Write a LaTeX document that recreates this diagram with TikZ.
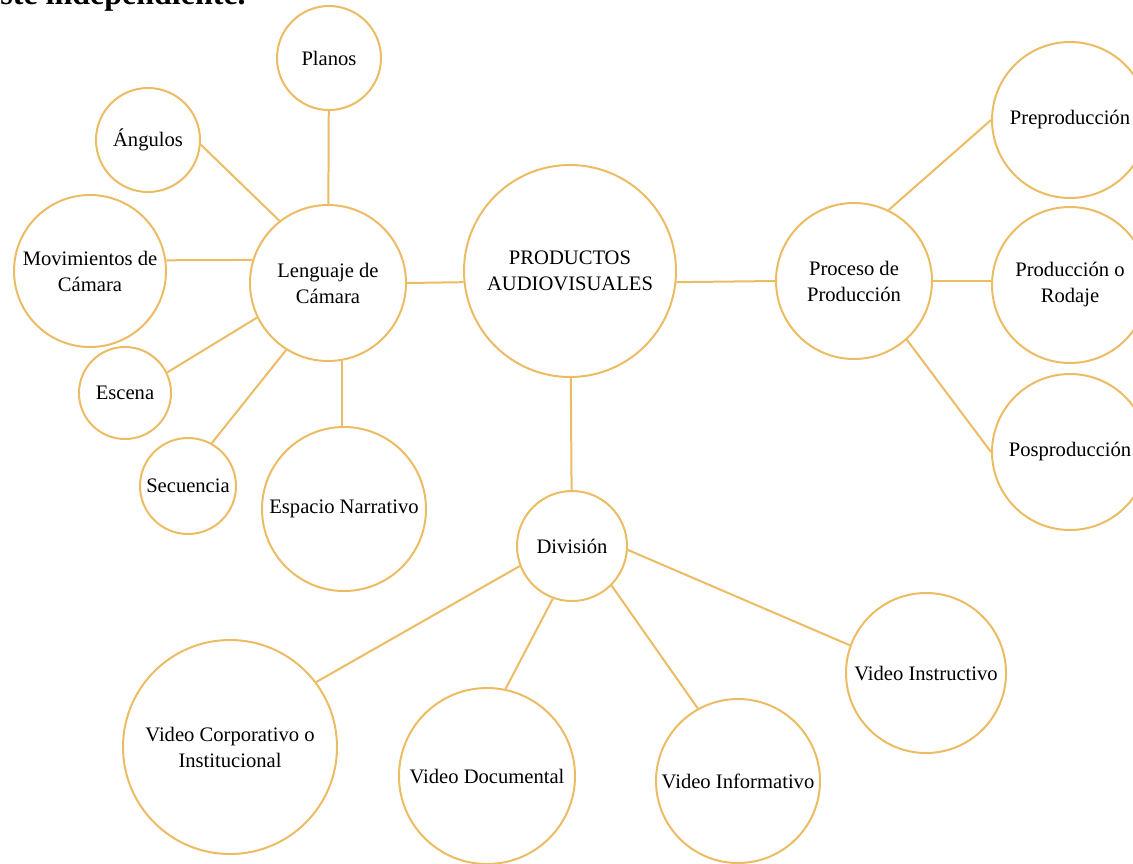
\documentclass[tikz,border=0pt]{standalone}
\usepackage{fontspec}
\setmainfont{Liberation Serif}
\usepackage{xcolor}
\definecolor{gold}{RGB}{236,188,100}
\usepackage{tikz}
\usetikzlibrary{positioning}

\begin{document}
\begin{tikzpicture}[x=0.5pt,y=-0.5pt,
  bubble/.style={draw=gold,line width=1pt,circle,inner sep=0,align=center,font=\fontsize{10.3}{13}\selectfont},
  link/.style={draw=gold,line width=1pt}]
\useasboundingbox (0,0) rectangle (1133,863);

%heading, cut at the top
\node (head) at (0,4) [anchor=base west,inner sep=0,font=\bfseries\fontsize{16}{18}\selectfont] {ste independiente.};

%centre
\node (prod) at (570,271) [bubble,minimum size=106pt] {PRODUCTOS\\AUDIOVISUALES};

%camera language
\node (leng) at (328,283) [bubble,minimum size=78pt] {Lenguaje de\\C\'amara};
\node (planos) at (329,58) [bubble,minimum size=52pt] {Planos};
\node (ang) at (148,140) [bubble,minimum size=52pt] {\'Angulos};
\node (mov) at (90,271) [bubble,minimum size=76pt] {Movimientos de\\C\'amara};
\node (esc) at (125,393) [bubble,minimum size=46pt] {Escena};
\node (sec) at (188,486) [bubble,minimum size=48pt] {Secuencia};
\node (esp) at (344,509) [bubble,minimum size=82pt] {Espacio Narrativo};

%production process
\node (proc) at (854,281) [bubble,minimum size=78pt] {Proceso de\\Producci\'on};
\node (pre) at (1070,120) [bubble,minimum size=78pt] {Preproducci\'on};
\node (rod) at (1070,285) [bubble,minimum size=78pt] {Producci\'on o\\Rodaje};
\node (pos) at (1070,452) [bubble,minimum size=78pt] {Posproducci\'on};

%division
\node (div) at (572,546) [bubble,minimum size=55pt] {Divisi\'on};
\node (corp) at (230,747) [bubble,minimum size=107pt] {Video Corporativo o\\Institucional};
\node (doc) at (487,776) [bubble,minimum size=88pt] {Video Documental};
\node (inf) at (738,781) [bubble,minimum size=82pt] {Video Informativo};
\node (ins) at (926,673) [bubble,minimum size=80pt] {Video Instructivo};

%links
\draw [link] (planos) -- (leng);
\draw [link] (ang.-5) -- (leng.128);
\draw [link] (mov.8) -- (leng.163);
\draw [link] (esc.26) -- (leng.206);
\draw [link] (sec.61) -- (leng.238);
\draw [link] (leng.280) -- (leng.280 |- esp.north);
\draw [link] (leng.east) -- (prod.186);
\draw [link] (prod.-6) -- (proc.west);
\draw [link] (proc.64) -- (pre.west);
\draw [link] (proc.east) -- (proc.east -| rod.west);
\draw [link] (proc.-48) -- (pos.west);
\draw [link] (prod) -- (div);
\draw [link] (div.201) -- (corp.37);
\draw [link] (div.250) -- (doc.78);
\draw [link] (div.-45) -- (inf.119);
\draw [link] (div.-4) -- (ins.160);

\end{tikzpicture}
\end{document}
